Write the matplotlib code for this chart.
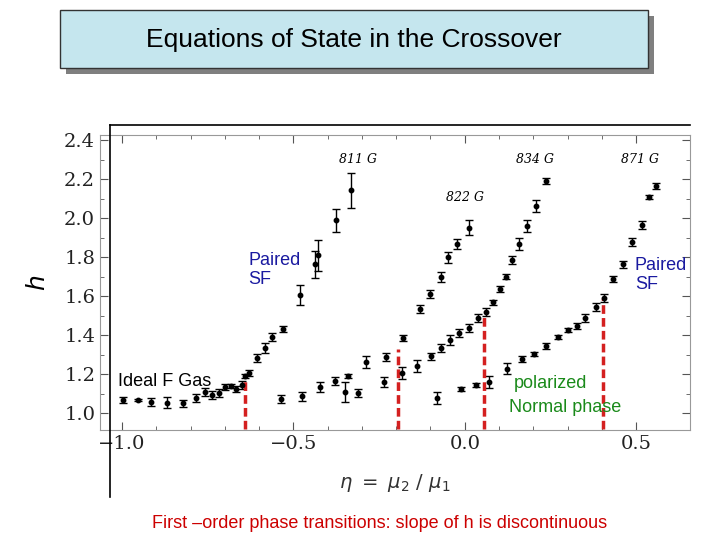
import matplotlib
matplotlib.use("Agg")
import matplotlib.pyplot as plt
from matplotlib.patches import Rectangle
from matplotlib.lines import Line2D

eta_811 = [-0.997,-0.952,-0.914,-0.870,-0.823,-0.784,-0.757,-0.736,-0.716,-0.698,-0.681,-0.667,-0.651,-0.641,-0.628,-0.606,-0.584,-0.563,-0.531,-0.482,-0.437,-0.429,-0.376,-0.332]
h_811 = [1.065,1.065,1.057,1.054,1.049,1.077,1.106,1.093,1.101,1.135,1.138,1.125,1.142,1.19,1.207,1.282,1.334,1.391,1.432,1.606,1.762,1.809,1.989,2.142]
err_811 = [0.015,0.005,0.02,0.03,0.02,0.02,0.02,0.02,0.02,0.015,0.01,0.015,0.02,0.01,0.015,0.02,0.025,0.02,0.015,0.05,0.07,0.08,0.06,0.09]

eta_822 = [-0.537,-0.476,-0.423,-0.379,-0.349,-0.341,-0.310,-0.287,-0.237,-0.231,-0.184,-0.181,-0.131,-0.100,-0.070,-0.049,-0.022,0.013]
h_822 = [1.070,1.085,1.135,1.166,1.109,1.192,1.101,1.261,1.158,1.288,1.207,1.386,1.533,1.611,1.697,1.798,1.868,1.951]
err_822 = [0.02,0.025,0.025,0.02,0.05,0.01,0.02,0.03,0.025,0.02,0.03,0.015,0.02,0.02,0.025,0.03,0.025,0.04]

eta_834 = [-0.139,-0.099,-0.069,-0.042,-0.016,0.013,0.040,0.062,0.082,0.102,0.121,0.139,0.159,0.182,0.208,0.236]
h_834 = [1.241,1.290,1.334,1.373,1.412,1.436,1.487,1.520,1.567,1.634,1.700,1.785,1.868,1.959,2.062,2.192]
err_834 = [0.03,0.02,0.02,0.025,0.02,0.02,0.02,0.02,0.015,0.015,0.015,0.02,0.03,0.03,0.03,0.015]

eta_871 = [-0.081,-0.011,0.034,0.072,0.124,0.167,0.201,0.237,0.272,0.301,0.327,0.352,0.382,0.407,0.432,0.461,0.488,0.516,0.538,0.557]
h_871 = [1.077,1.125,1.145,1.158,1.228,1.277,1.305,1.342,1.388,1.428,1.448,1.489,1.542,1.590,1.687,1.762,1.878,1.964,2.109,2.164]
err_871 = [0.03,0.01,0.01,0.03,0.03,0.015,0.01,0.015,0.01,0.01,0.015,0.02,0.02,0.02,0.015,0.02,0.02,0.02,0.01,0.015]

trans_eta = [-0.641,-0.196,0.056,0.404]
trans_h = [1.19,1.33,1.51,1.59]

field_labels = ["811 G","822 G","834 G","871 G"]
field_pos = [(-0.31,2.28),(0.0,2.09),(0.205,2.28),(0.51,2.28)]

fig = plt.figure(figsize=(7.2,5.4), dpi=100)
fig.patch.set_facecolor("white")

# title box with shadow
fig.patches.append(Rectangle((66/720,1-74/540),588/720,58/540,transform=fig.transFigure,facecolor="#7f7f7f",edgecolor="none",zorder=0))
fig.patches.append(Rectangle((60/720,1-68/540),588/720,58/540,transform=fig.transFigure,facecolor="#c5e6ee",edgecolor="#333333",lw=1,zorder=1))
fig.text(354/720,1-40/540,"Equations of State in the Crossover",ha="center",va="center",fontsize=19,family="Liberation Sans",zorder=2)

ax = fig.add_axes([100/720, 110/540, 590/720, 295/540])
for e,h,er in [(eta_811,h_811,err_811),(eta_822,h_822,err_822),(eta_834,h_834,err_834),(eta_871,h_871,err_871)]:
    ax.errorbar(e,h,yerr=er,fmt="o",color="black",ms=3.2,elinewidth=1,capsize=3,capthick=1)
for te,th in zip(trans_eta,trans_h):
    ax.plot([te,te],[0.92,th],color="#d42020",lw=2.5,ls=(0,(2.5,1.2)))
for lab,(x,y) in zip(field_labels,field_pos):
    ax.text(x,y,lab,fontsize=9,family="DejaVu Serif",style="italic",ha="center")
ax.set_xlim(-1.064,0.657)
ax.set_ylim(0.913,2.426)
ax.set_xticks([-1.0,-0.5,0.0,0.5])
ax.set_xticklabels(["\u22121.0","\u22120.5","0.0","0.5"])
ax.set_yticks([1.0,1.2,1.4,1.6,1.8,2.0,2.2,2.4])
ax.set_yticklabels(["1.0","1.2","1.4","1.6","1.8","2.0","2.2","2.4"])
ax.set_xticks([-0.9,-0.8,-0.7,-0.6,-0.4,-0.3,-0.2,-0.1,0.1,0.2,0.3,0.4],minor=True)
ax.set_yticks([1.1,1.3,1.5,1.7,1.9,2.1,2.3],minor=True)
ax.tick_params(direction="in",top=True,right=True,which="both",labelsize=14,colors="#555555",labelcolor="#222222")
ax.tick_params(which="major",length=6)
ax.tick_params(which="minor",length=3)
for lab in ax.get_xticklabels()+ax.get_yticklabels():
    lab.set_family("DejaVu Serif")
for s in ax.spines.values():
    s.set_color("#999999"); s.set_linewidth(0.8)
ax.set_xlabel(r"$\eta\ =\ \mu_2\ /\ \mu_1$",fontsize=14,color="#333333",labelpad=14)
ax.set_ylabel(r"$h$",fontsize=18,rotation=90,labelpad=10)

fig.lines.append(Line2D([110/720,110/720],[1-125/540,1-497/540],transform=fig.transFigure,color="black",lw=1.2))
fig.lines.append(Line2D([110/720,690/720],[1-125/540,1-125/540],transform=fig.transFigure,color="black",lw=1.2))

fig.text(248/720,1-270/540,"Paired\nSF",color="#1a1aa0",fontsize=13,family="Liberation Sans",va="center",linespacing=1.1)
fig.text(635/720,1-275/540,"Paired\nSF",color="#1a1aa0",fontsize=13,family="Liberation Sans",va="center",linespacing=1.1)
fig.text(118/720,1-381/540,"Ideal F Gas",color="black",fontsize=13,family="Liberation Sans",va="center")
fig.text(550/720,1-384/540,"polarized",color="#1a8a1a",fontsize=13,family="Liberation Sans",va="center",ha="center")
fig.text(565/720,1-408/540,"Normal phase",color="#1a8a1a",fontsize=13,family="Liberation Sans",va="center",ha="center")
fig.text(380/720,1-524/540,"First \u2013order phase transitions: slope of h is discontinuous",color="#cc0000",fontsize=13,family="Liberation Sans",va="center",ha="center")

fig.savefig("out.png",dpi=100)
